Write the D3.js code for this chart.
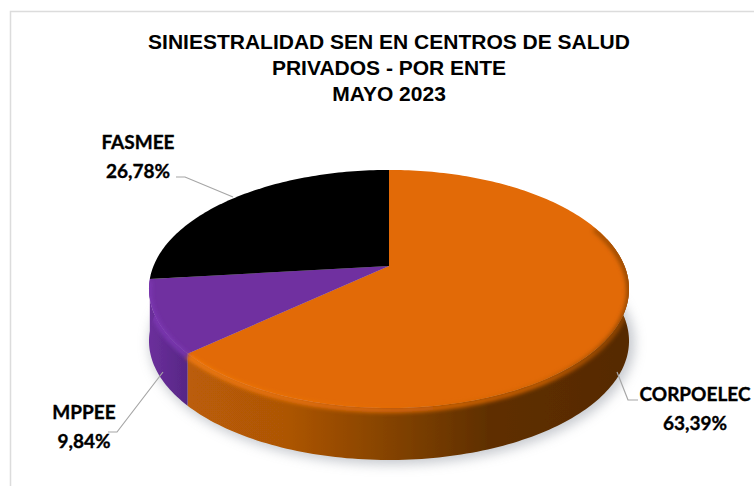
<!DOCTYPE html>
<html>
<head>
<meta charset="utf-8">
<script src="https://cdn.jsdelivr.net/npm/d3@7"></script>
<style>
html, body { margin: 0; padding: 0; background: #fff; }
svg { display: block; }
</style>
</head>
<body>
<div id="chart"></div>
<script>
// chart values
var categories = ["CORPOELEC", "MPPEE", "FASMEE"];
var values = [63.39, 9.84, 26.78];
var valueLabels = ["63,39%", "9,84%", "26,78%"];
var titleLines = ["SINIESTRALIDAD SEN EN CENTROS DE SALUD", "PRIVADOS - POR ENTE", "MAYO 2023"];
var topColors = ["#e26a07", "#7030a0", "#000000"];

var W = 754, H = 486;
var svg = d3.select("#chart").append("svg").attr("width", W).attr("height", H);
var defs = svg.append("defs");

// frame
svg.append("rect").attr("x", 10.5).attr("y", 11.5).attr("width", 760).attr("height", 490)
  .attr("fill", "#fff").attr("stroke", "#dcdcdc").attr("stroke-width", 1.5);

// perspective disc: center of the pie does not sit at the middle of the ellipse
var cx = 389, cy = 266, a = 235.5, b = 114.6, t = 0.193, depth = 52;
function project(ang, dy) {
  var u = Math.sin(ang), v = -Math.cos(ang), d = 1 - t * v;
  return [cx + a * u / d, cy + b * v / d + (dy || 0)];
}
function arcPoints(a0, a1, dy) {
  var n = Math.max(2, Math.ceil((a1 - a0) / 0.02));
  return d3.range(n + 1).map(function (i) { return project(a0 + (a1 - a0) * i / n, dy); });
}
var line = d3.line();

var arcs = d3.pie().sort(null)(values);
var TAU = Math.PI * 2;

// blurs
defs.append("filter").attr("id", "shadow").attr("x", "-20%").attr("y", "-20%").attr("width", "140%").attr("height", "140%")
  .append("feGaussianBlur").attr("stdDeviation", 6);
defs.append("filter").attr("id", "rim").attr("filterUnits", "userSpaceOnUse")
  .attr("x", 0).attr("y", 0).attr("width", W).attr("height", H)
  .append("feGaussianBlur").attr("stdDeviation", 2);
defs.append("filter").attr("id", "soft").attr("filterUnits", "userSpaceOnUse")
  .attr("x", 0).attr("y", 0).attr("width", W).attr("height", H)
  .append("feGaussianBlur").attr("stdDeviation", 0.6);

// soft shadow under the pie
svg.append("path")
  .attr("d", line(arcPoints(0, TAU, depth + 2).map(function (p) { return [p[0] + 3, p[1]]; })) + "Z")
  .attr("fill", "#b4b8bf").attr("stroke", "#b4b8bf").attr("stroke-width", 5)
  .attr("opacity", 0.75).attr("filter", "url(#shadow)");

// wall gradients, horizontal across the pie
var wallStops = [
  [[0, "#bb5d07"], [0.22, "#ad5506"], [0.5, "#7c3f03"], [0.68, "#5f2f01"], [1, "#562a00"]],
  [[0, "#6b2f9b"], [1, "#552684"]]
];
wallStops.forEach(function (stops, i) {
  var g = defs.append("linearGradient").attr("id", "wall" + i)
    .attr("gradientUnits", "userSpaceOnUse")
    .attr("x1", i === 0 ? 190 : 150).attr("x2", i === 0 ? 629 : 190)
    .attr("y1", 0).attr("y2", 0);
  stops.forEach(function (s) { g.append("stop").attr("offset", s[0]).attr("stop-color", s[1]); });
});
var rg = defs.append("linearGradient").attr("id", "rimOrange").attr("gradientUnits", "userSpaceOnUse")
  .attr("x1", 190).attr("x2", 629).attr("y1", 0).attr("y2", 0);
rg.append("stop").attr("offset", 0).attr("stop-color", "#f47c12");
rg.append("stop").attr("offset", 0.5).attr("stop-color", "#e26a07");
rg.append("stop").attr("offset", 0.8).attr("stop-color", "#cf6206");
rg.append("stop").attr("offset", 1).attr("stop-color", "#8f4503");

// clip for the bevel so the blur stays inside the solid
defs.append("clipPath").attr("id", "solid").append("path")
  .attr("d", line(arcPoints(0, TAU, 0)) + "Z " + line(arcPoints(Math.PI / 2 - 0.1, Math.PI * 1.5 + 0.1, 0).concat(arcPoints(Math.PI / 2 - 0.1, Math.PI * 1.5 + 0.1, depth).reverse())) + "Z");

// walls, only the slices that face front
var front0 = Math.PI / 2 - 0.25, front1 = Math.PI * 1.5 + 0.25;
var walls = svg.append("g").attr("filter", "url(#soft)");
arcs.slice(0, 2).forEach(function (d, i) {
  var a0 = Math.max(d.startAngle, front0), a1 = Math.min(d.endAngle, front1);
  var topEdge = arcPoints(a0, a1, 0), bottomEdge = arcPoints(a0, a1, depth).reverse();
  walls.append("path").attr("d", line(topEdge.concat(bottomEdge)) + "Z").attr("fill", "url(#wall" + i + ")");
});

// top faces
arcs.forEach(function (d, i) {
  svg.append("path")
    .attr("d", line([[cx, cy]].concat(arcPoints(d.startAngle, d.endAngle, 0))) + "Z")
    .attr("fill", topColors[i]);
});

// bevel along the rim
var bevel = svg.append("g").attr("clip-path", "url(#solid)");
bevel.append("path").attr("d", line(arcPoints(1.2, arcs[0].endAngle, 2)))
  .attr("fill", "none").attr("stroke", "url(#rimOrange)").attr("stroke-width", 5).attr("filter", "url(#rim)");
bevel.append("path").attr("d", line(arcPoints(arcs[1].startAngle, arcs[1].endAngle, 2)))
  .attr("fill", "none").attr("stroke", "#7d38b3").attr("stroke-width", 5).attr("filter", "url(#rim)");

// title
var title = svg.append("text").attr("text-anchor", "middle")
  .attr("font-family", "'Liberation Sans', Arial, sans-serif").attr("font-weight", "bold")
  .attr("font-size", 21).attr("fill", "#000");
titleLines.forEach(function (s, i) {
  title.append("tspan").attr("x", 389).attr("y", 49 + i * 26).text(s);
});

// leader lines
var leaders = [
  [[617, 372], [628, 400], [638, 400]],
  [[163, 372], [117, 432], [108, 432]],
  [[233, 197], [185, 177], [176, 177]]
];
leaders.forEach(function (p) {
  svg.append("path").attr("d", line(p)).attr("fill", "none").attr("stroke", "#a6a6a6").attr("stroke-width", 1.2);
});

// data labels
var labelPos = [[695, 401], [84, 419], [138, 149]];
arcs.forEach(function (d, i) {
  var lab = svg.append("text").attr("text-anchor", "middle")
    .attr("font-family", "Lato, 'Noto Sans', sans-serif").attr("font-weight", "bold")
    .attr("font-size", 19).attr("fill", "#000").attr("stroke", "#000").attr("stroke-width", 0.35);
  lab.append("tspan").attr("x", labelPos[i][0]).attr("y", labelPos[i][1]).text(categories[i]);
  lab.append("tspan").attr("x", labelPos[i][0]).attr("y", labelPos[i][1] + 28.5).text(valueLabels[i]);
});
</script>
</body>
</html>
